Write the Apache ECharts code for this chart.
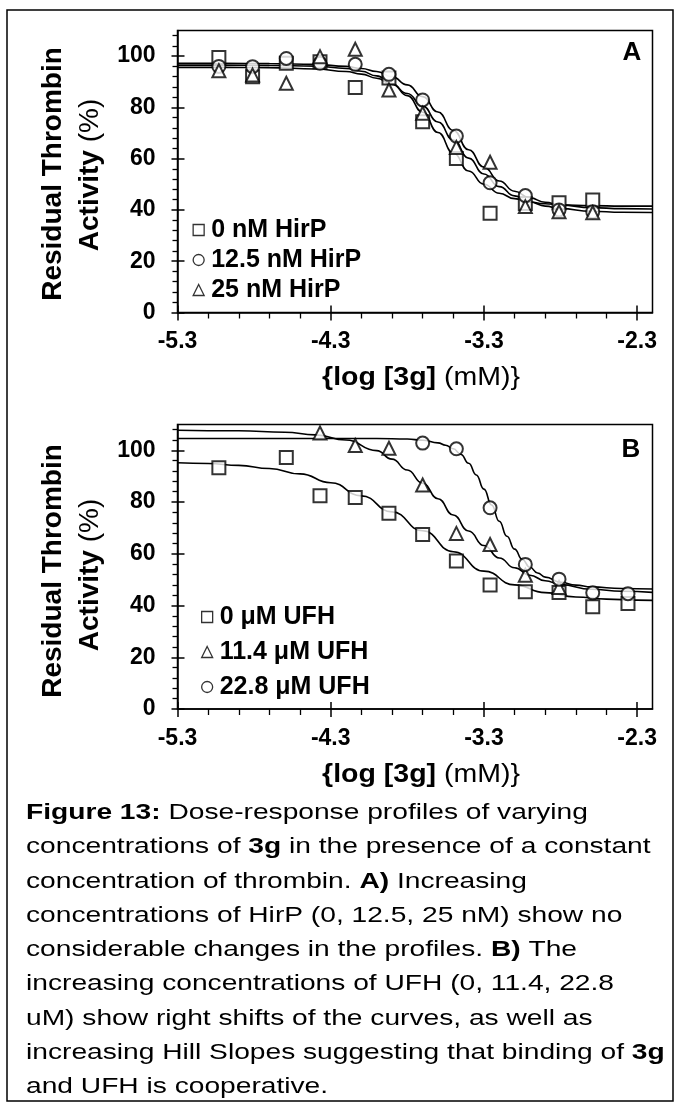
<!DOCTYPE html>
<html><head><meta charset="utf-8">
<script src="https://cdn.jsdelivr.net/npm/echarts@6/dist/echarts.min.js"></script>
<style>html,body{margin:0;padding:0;background:#fff}#c{width:681px;height:1111px}</style>
</head><body><div id="c"></div>
<script>
const FONT = "'Liberation Sans', Arial, Helvetica, sans-serif";

// ---------- Panel A (HirP) ----------
const xA        = [-5.03,-4.81,-4.59,-4.37,-4.14,-3.92,-3.70,-3.48,-3.26,-3.03,-2.81,-2.59];
const aHirP0    = [99.5, 92.0, 97.2, 97.8, 87.8, 91.5, 74.4, 60.1, 38.7, 42.5, 42.8, 43.9];
const aHirP125  = [96.0, 95.9, 99.1, 97.2, 96.8, 92.9, 82.9, 68.8, 50.6, 45.6, 40.0, 39.3];
const aHirP25   = [94.3, 92.6, 89.4, 99.8,102.7, 86.8, 77.7, 64.4, 58.6, 41.3, 39.3, 38.9];
// fitted curves
const curveXA     = [-5.3,-5.0,-4.7,-4.4,-4.2,-4.1,-4.0,-3.9,-3.8,-3.7,-3.6,-3.5,-3.4,-3.3,-3.2,-3.1,-3.0,-2.9,-2.8,-2.6,-2.4,-2.2];
const curveA0     = [96.5,96.5,96.4,96.1,95.2,94.1,92.3,89.3,84.6,78.1,70.2,62.2,55.2,50.0,46.5,44.4,43.1,42.4,42.0,41.7,41.5,41.5];
const curveA125   = [97.2,97.2,97.1,96.8,96.0,95.2,94.0,91.9,88.8,84.2,78.2,71.0,63.5,56.7,51.3,47.3,44.7,43.0,41.9,40.9,40.5,40.4];
const curveA25    = [95.6,95.6,95.5,95.0,94.0,93.0,91.4,89.0,85.4,80.5,74.3,67.3,60.2,54.0,49.1,45.5,43.1,41.5,40.5,39.5,39.1,39.0];

// ---------- Panel B (UFH) ----------
const xB0     = [-5.03,-4.59,-4.37,-4.14,-3.92,-3.70,-3.48,-3.26,-3.03,-2.81,-2.59,-2.36];
const bUFH0   = [93.3, 97.2, 82.5, 81.8, 75.7, 67.5, 57.2, 47.9, 45.3, 45.0, 39.5, 40.8];
const xB114   = [-4.37,-4.14,-3.92,-3.70,-3.48,-3.26,-3.03,-2.81];
const bUFH114 = [106.7,101.9,100.8, 86.6, 67.9, 63.6, 51.7, 47.0];
const xB228   = [-3.70,-3.48,-3.26,-3.03,-2.81,-2.59,-2.36];
const bUFH228 = [102.8,100.6, 77.8, 55.9, 50.2, 44.9, 44.6];
const curveXB0   = [-5.3,-5.1,-4.9,-4.7,-4.5,-4.3,-4.1,-3.9,-3.7,-3.5,-3.3,-3.1,-2.9,-2.7,-2.5,-2.3,-2.2];
const curveB0    = [95.2,94.9,94.2,93.0,90.9,87.5,82.4,76.2,68.9,60.8,53.3,48.0,45.0,43.3,42.5,42.1,42.0];
const curveXB114 = [-5.3,-4.9,-4.6,-4.4,-4.2,-4.0,-3.9,-3.8,-3.7,-3.6,-3.5,-3.4,-3.3,-3.2,-3.1,-3.0,-2.9,-2.8,-2.6,-2.4,-2.2];
const curveB114  = [107.8,107.6,107.0,106.0,104.0,99.9,96.6,92.4,87.3,81.3,75.0,68.8,63.2,58.4,54.6,51.7,49.6,48.1,46.3,45.5,45.1];
const curveXB228 = [-5.3,-4.0,-3.8,-3.7,-3.6,-3.55,-3.5,-3.45,-3.4,-3.35,-3.3,-3.25,-3.2,-3.15,-3.1,-3.05,-3.0,-2.95,-2.9,-2.8,-2.7,-2.6,-2.4,-2.2];
const curveB228  = [104.6,104.6,104.4,103.9,102.9,102.0,100.6,98.4,95.0,90.5,85.0,78.9,72.6,66.8,61.8,57.8,54.8,52.6,51.0,49.0,47.9,47.2,46.6,46.4];

// ---------- ticks / labels ----------
const xTicks = [-5.3,-4.3,-3.3,-2.3];
const yTicks = [0,20,40,60,80,100];
const xMinor = []; for (let i = 1; i < 15; i++) if (i % 5) xMinor.push(+(-5.3 + i*0.2).toFixed(1));
const yMinor = []; for (let v = 4; v <= 108; v += 4) if (v % 20) yMinor.push(v);

const legendA = ['0 nM HirP','12.5 nM HirP','25 nM HirP'];
const legendB = ['0 μM UFH','11.4 μM UFH','22.8 μM UFH'];
const yTitle1 = 'Residual Thrombin';
const yTitle2 = ['Activity', ' (%)'];
const xTitle  = ['{log [3g]', ' (mM)}'];

const captionLines = [
  '{b|Figure 13:} Dose-response profiles of varying',
  'concentrations of {b|3g} in the presence of a constant',
  'concentration of thrombin. {b|A)} Increasing',
  'concentrations of HirP (0, 12.5, 25 nM) show no',
  'considerable changes in the profiles. {b|B)} The',
  'increasing concentrations of UFH (0, 11.4, 22.8',
  'uM) show right shifts of the curves, as well as',
  'increasing Hill Slopes suggesting that binding of {b|3g}',
  'and UFH is cooperative.'
];

const grids = [
  {left:177.5, top:30.5, width:475, height:282, show:true, borderColor:'#000', borderWidth:1.5},
  {left:177.5, top:424.5, width:475, height:284.5, show:true, borderColor:'#000', borderWidth:1.5}
];

function xAxesFor(g){
  const base = {type:'value', gridIndex:g, min:-5.3, max:-2.2, interval:1, position:'bottom', offset:0, splitLine:{show:false}};
  return [
    Object.assign({}, base, {
      axisLine:{show:true, onZero:false, lineStyle:{color:'#000', width:1.5}},
      axisTick:{show:true, inside:false, length:8, customValues:xTicks, lineStyle:{color:'#000', width:1.5}},
      axisLabel:{show:true, customValues:xTicks, margin:18, color:'#000', fontFamily:FONT, fontWeight:'bold', fontSize:23,
                 formatter:v=>v.toFixed(1)}
    }),
    Object.assign({}, base, {
      axisLine:{show:false},
      axisTick:{show:true, inside:true, length:7, customValues:xTicks, lineStyle:{color:'#000', width:1.5}},
      axisLabel:{show:false}
    }),
    Object.assign({}, base, {
      axisLine:{show:false},
      axisTick:{show:true, inside:false, length:6, customValues:xMinor, lineStyle:{color:'#000', width:1.3}},
      axisLabel:{show:false}
    })
  ];
}
function yAxesFor(g){
  const base = {type:'value', gridIndex:g, min:0, max:110, interval:20, position:'left', offset:0, splitLine:{show:false}};
  return [
    Object.assign({}, base, {
      axisLine:{show:true, onZero:false, lineStyle:{color:'#000', width:1.5}},
      axisTick:{show:true, inside:false, length:6, customValues:yTicks, lineStyle:{color:'#000', width:1.5}},
      axisLabel:{show:true, customValues:yTicks, margin:22, color:'#000', fontFamily:FONT, fontWeight:'bold', fontSize:23}
    }),
    Object.assign({}, base, {
      axisLine:{show:false},
      axisTick:{show:true, inside:true, length:7, customValues:yTicks, lineStyle:{color:'#000', width:1.5}},
      axisLabel:{show:false}
    }),
    Object.assign({}, base, {
      axisLine:{show:false},
      axisTick:{show:true, inside:false, length:5, customValues:yMinor, lineStyle:{color:'#000', width:1.3}},
      axisLabel:{show:false}
    })
  ];
}

function zip(xs, ys){ return xs.map((x,i)=>[x, ys[i]]); }
function curve(g, xs, ys){
  return {type:'line', xAxisIndex:g*3, yAxisIndex:g*3, data:zip(xs,ys), smooth:true, smoothMonotone:'x',
          showSymbol:false, symbol:'none', z:2, silent:true,
          lineStyle:{color:'#000', width:1.6}};
}
function pts(g, name, sym, xs, ys){
  return {type:'scatter', name:name, xAxisIndex:g*3, yAxisIndex:g*3, data:zip(xs,ys), symbol:sym, symbolSize:13, z:5,
          itemStyle:{color:'#fff', borderColor:'#000', borderWidth:2}};
}

const legendCommon = {orient:'vertical', itemWidth:11, itemHeight:11, padding:0, selectedMode:false,
  itemStyle:{color:'#fff', borderColor:'#000', borderWidth:1.3},
  textStyle:{color:'#000', fontFamily:FONT, fontWeight:'bold', fontSize:25, padding:[0,0,0,2]}};

const graphic = [
  {type:'rect', shape:{x:7, y:10, width:666, height:1091}, style:{fill:'none', stroke:'#000', lineWidth:1.5}, silent:true},
  {type:'text', x:632, y:53, style:{text:'A', font:'bold 26px '+FONT, fill:'#000', align:'center', verticalAlign:'middle'}},
  {type:'text', x:631, y:450, style:{text:'B', font:'bold 26px '+FONT, fill:'#000', align:'center', verticalAlign:'middle'}}
];
[[174, 175],[571,575]].forEach(function(c){
  graphic.push({type:'text', x:53, y:c[0], rotation:Math.PI/2,
    style:{text:yTitle1, font:'bold 28px '+FONT, fill:'#000', align:'center', verticalAlign:'middle'}});
  graphic.push({type:'text', x:90, y:c[1], rotation:Math.PI/2,
    style:{text:'{b|' + yTitle2[0] + '}' + yTitle2[1], font:'28px '+FONT, fill:'#000', align:'center', verticalAlign:'middle',
           rich:{b:{fontFamily:FONT, fontWeight:'bold', fontSize:28}}}});
});
[378.5, 775].forEach(function(y){
  graphic.push({type:'text', x:421, y:y, scaleX:1.14,
    style:{text:'{b|' + xTitle[0] + '}' + xTitle[1], font:'25px '+FONT, fill:'#000', align:'center', verticalAlign:'middle',
           rich:{b:{fontFamily:FONT, fontWeight:'bold', fontSize:25}}}});
});
captionLines.forEach(function(t, i){
  graphic.push({type:'text', x:26, y:813 + i*34.25, scaleX:1.28,
    style:{text:t, font:'22px '+FONT, fill:'#000', align:'left', verticalAlign:'middle',
           rich:{b:{fontFamily:FONT, fontWeight:'bold', fontSize:22}}}});
});

const option = {
  animation:false,
  backgroundColor:'#fff',
  grid: grids,
  xAxis: xAxesFor(0).concat(xAxesFor(1)),
  yAxis: yAxesFor(0).concat(yAxesFor(1)),
  legend: [
    Object.assign({}, legendCommon, {left:192.5, top:217.5, itemGap:5,
      data:[{name:legendA[0], icon:'rect'},{name:legendA[1], icon:'circle'},{name:legendA[2], icon:'triangle'}]}),
    Object.assign({}, legendCommon, {left:201, top:604.5, itemGap:10,
      data:[{name:legendB[0], icon:'rect'},{name:legendB[1], icon:'triangle'},{name:legendB[2], icon:'circle'}]})
  ],
  series: [
    curve(0, curveXA, curveA0), curve(0, curveXA, curveA125), curve(0, curveXA, curveA25),
    pts(0, legendA[0], 'rect', xA, aHirP0),
    pts(0, legendA[1], 'circle', xA, aHirP125),
    pts(0, legendA[2], 'triangle', xA, aHirP25),
    curve(1, curveXB0, curveB0), curve(1, curveXB114, curveB114), curve(1, curveXB228, curveB228),
    pts(1, legendB[0], 'rect', xB0, bUFH0),
    pts(1, legendB[1], 'triangle', xB114, bUFH114),
    pts(1, legendB[2], 'circle', xB228, bUFH228)
  ],
  graphic: graphic
};
const chart = echarts.init(document.getElementById('c'), null, {renderer:'canvas'});
chart.setOption(option);
</script></body></html>
